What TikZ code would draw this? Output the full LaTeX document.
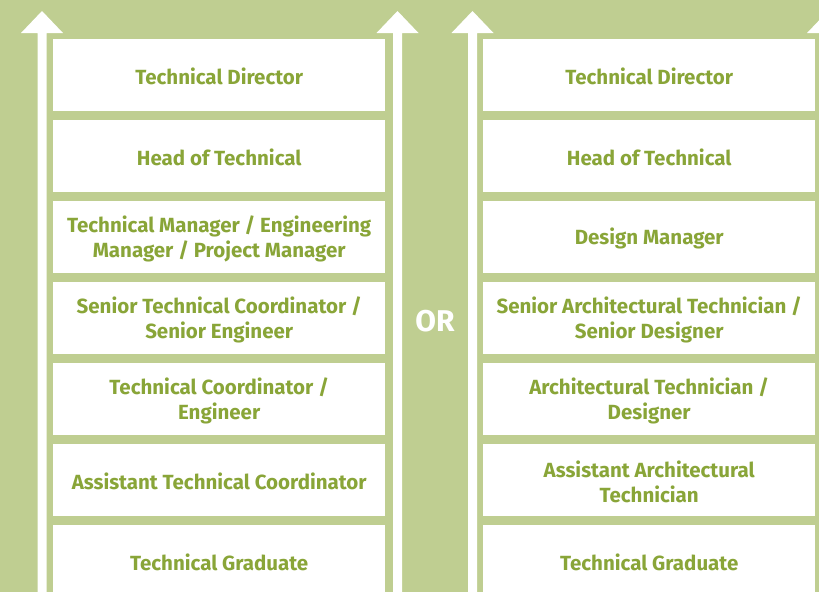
\documentclass[tikz,border=0pt]{standalone}
\usepackage{fontspec}
\setmainfont{Fira Sans}
\definecolor{bggreen}{RGB}{191,206,145}
\definecolor{txtgreen}{RGB}{137,165,56}
\begin{document}
\begin{tikzpicture}[x=1pt,y=-1pt,
  rolebox/.style={fill=white, draw=none, minimum width=332pt, minimum height=72pt, inner sep=0pt,
    anchor=north west},
  roletext/.style={align=center, text=txtgreen, inner sep=0pt, font=\fontsize{20.5}{25}\selectfont\bfseries},
  uparrow/.style={fill=white, draw=none}]
\useasboundingbox (0,0) rectangle (819,592);
\clip (0,0) rectangle (819,592);
\fill[bggreen] (0,0) rectangle (819,592);
% arrows
\foreach \c/\n in {42/a1, 397.5/a2, 472.5/a3, 828/a4}{
  \fill[uparrow] (\c-4.5,600) -- (\c-4.5,33) -- (\c-21,33) -- (\c,11) -- (\c+21,33) -- (\c+4.5,33) -- (\c+4.5,600) -- cycle;
}
% boxes
\foreach \i/\t in {1/39,2/120,3/201,4/282,5/363,6/444,7/525}{
  \node[rolebox] (l\i) at (53,\t) {};
  \node[rolebox] (r\i) at (483,\t) {};
}
% left column
\node[roletext] (tl1) at ([yshift=-1.5pt]l1.center) {Technical Director};
\node[roletext] (tl2) at ([yshift=-1.5pt]l2.center) {Head of Technical};
\node[roletext] (tl3) at ([yshift=-1.5pt]l3.center) {Technical Manager / Engineering\\Manager / Project Manager};
\node[roletext] (tl4) at ([yshift=-1.5pt]l4.center) {Senior Technical Coordinator /\\Senior Engineer};
\node[roletext] (tl5) at ([yshift=-1.5pt]l5.center) {Technical Coordinator /\\Engineer};
\node[roletext] (tl6) at ([yshift=-1.5pt]l6.center) {Assistant Technical Coordinator};
\node[roletext] (tl7) at ([yshift=-1.5pt]l7.center) {Technical Graduate};
% right column
\node[roletext] (tr1) at ([yshift=-1.5pt]r1.center) {Technical Director};
\node[roletext] (tr2) at ([yshift=-1.5pt]r2.center) {Head of Technical};
\node[roletext] (tr3) at ([yshift=-1.5pt]r3.center) {Design Manager};
\node[roletext] (tr4) at ([yshift=-1.5pt]r4.center) {Senior Architectural Technician /\\Senior Designer};
\node[roletext] (tr5) at ([yshift=-1.5pt]r5.center) {Architectural Technician /\\Designer};
\node[roletext] (tr6) at ([yshift=-1.5pt]r6.center) {Assistant Architectural\\Technician};
\node[roletext] (tr7) at ([yshift=-1.5pt]r7.center) {Technical Graduate};
\node[text=white, font=\fontsize{30}{32}\selectfont\bfseries] (or) at (435,321) {OR};
\end{tikzpicture}
\end{document}
